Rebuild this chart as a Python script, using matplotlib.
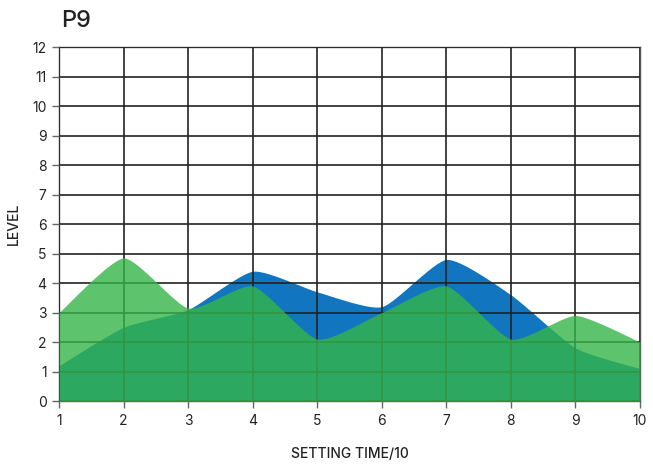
import numpy as np
import matplotlib
matplotlib.use("Agg")
import matplotlib.pyplot as plt

x_vals = [1, 2, 3, 4, 5, 6, 7, 8, 9, 10]
blue_vals = [1.2, 2.5, 3.1, 4.4, 3.7, 3.2, 4.8, 3.6, 1.8, 1.1]
green_vals = [3.0, 4.85, 3.15, 3.9, 2.1, 3.0, 3.9, 2.1, 2.9, 2.0]
y_ticks = list(range(0, 13))

plt.rcParams['font.family'] = ['Inter', 'DejaVu Sans']


def smooth(xs, ys, t=0.1, n=40):
    xs = np.asarray(xs, float)
    ys = np.asarray(ys, float)
    px, py = [], []
    m = len(xs)
    for i in range(m - 1):
        p0 = np.array([xs[max(i - 1, 0)], ys[max(i - 1, 0)]])
        p1 = np.array([xs[i], ys[i]])
        p2 = np.array([xs[i + 1], ys[i + 1]])
        p3 = np.array([xs[min(i + 2, m - 1)], ys[min(i + 2, m - 1)]])
        c1 = p1 + t * (p2 - p0)
        c2 = p2 - t * (p3 - p1)
        s = np.linspace(0, 1, n)[:, None]
        pts = ((1 - s) ** 3) * p1 + 3 * ((1 - s) ** 2) * s * c1 + 3 * (1 - s) * s ** 2 * c2 + s ** 3 * p2
        px.extend(pts[:, 0])
        py.extend(pts[:, 1])
    return np.array(px), np.array(py)


fig = plt.figure(figsize=(6.53, 4.72), dpi=100)
ax = fig.add_axes([0.0904, 0.1504, 0.8896, 0.75])

bx, by = smooth(x_vals, blue_vals)
gx, gy = smooth(x_vals, green_vals)
ax.fill_between(bx, 0, by, color='#1275c0', lw=0, zorder=1)
ax.fill_between(gx, 0, gy, color='#34b548', alpha=0.8, lw=0, zorder=3)

ax.set_xlim(1, 10)
ax.set_ylim(0, 12)
ax.set_xticks(x_vals)
ax.set_yticks(y_ticks)
ax.grid(True, color='#222222', lw=1.2, zorder=2)
ax.set_axisbelow(False)
for sp in ax.spines.values():
    sp.set_color('#555555')
    sp.set_linewidth(1.0)
    sp.set_zorder(2)
ax.tick_params(axis='both', length=5, width=1, color='#666666', labelsize=10, labelcolor='#222222', pad=4)
ax.set_xlabel('SETTING TIME/10', fontsize=10, fontweight='medium', color='#222222', labelpad=14)
ax.set_ylabel('LEVEL', fontsize=10, fontweight='medium', color='#222222', labelpad=8)
fig.text(0.094, 0.955, 'P9', fontsize=17, fontweight='medium', color='#222222', ha='left', va='center')

fig.savefig('out.png', dpi=100)
